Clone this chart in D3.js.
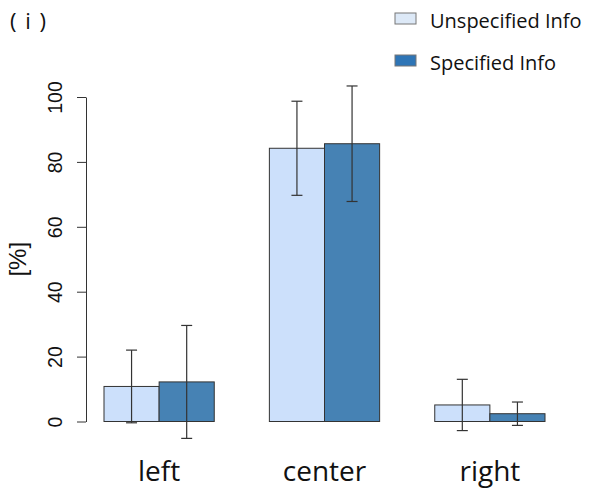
<!DOCTYPE html>
<html>
<head>
<meta charset="utf-8">
<script src="https://cdn.jsdelivr.net/npm/d3@7"></script>
<style>
  html, body { margin: 0; padding: 0; background: #fff; }
  svg { display: block; }
</style>
</head>
<body>
<svg id="chart" width="590" height="488"></svg>
<script>
// Response position by information condition (mean ± SD, in percent)
const categories = ["left", "center", "right"];
const seriesNames = ["Unspecified Info", "Specified Info"];
const unspecified = [10.8, 84.2, 5.1];
const specified = [12.2, 85.6, 2.4];
const unspecifiedErr = [11.2, 14.5, 7.9];
const specifiedErr = [17.4, 17.8, 3.6];
const yTicks = [0, 20, 40, 60, 80, 100];

const barColors = ["#cce0fb", "#4682b4"];
const legendColors = ["#dde9f7", "#2e75b6"];

const rows = categories.map((c, i) => ({
  category: c,
  values: [
    { series: seriesNames[0], value: unspecified[i], err: unspecifiedErr[i] },
    { series: seriesNames[1], value: specified[i], err: specifiedErr[i] }
  ]
}));

const svg = d3.select("#chart");

const x = d3.scaleBand()
  .domain(categories)
  .range([104, 545])
  .paddingInner(1 / 3)
  .paddingOuter(0);

const xInner = d3.scaleBand()
  .domain(seriesNames)
  .range([0, x.bandwidth()])
  .padding(0);

const y = d3.scaleLinear()
  .domain([0, 100])
  .range([421.5, 97]);

// Bars
const groups = svg.append("g")
  .selectAll("g")
  .data(rows)
  .join("g")
  .attr("transform", d => `translate(${x(d.category)},0)`);

groups.selectAll("rect")
  .data(d => d.values)
  .join("rect")
  .attr("x", d => xInner(d.series))
  .attr("y", d => y(d.value))
  .attr("width", xInner.bandwidth())
  .attr("height", d => y(0) - y(d.value))
  .attr("fill", (d, i) => barColors[i])
  .attr("stroke", "#333")
  .attr("stroke-width", 1);

// Error bars
const capHalf = 5.5;
const err = groups.selectAll("g.err")
  .data(d => d.values)
  .join("g")
  .attr("class", "err")
  .attr("stroke", "#333")
  .attr("stroke-width", 1.2)
  .attr("fill", "none");

err.append("line")
  .attr("x1", d => xInner(d.series) + xInner.bandwidth() / 2)
  .attr("x2", d => xInner(d.series) + xInner.bandwidth() / 2)
  .attr("y1", d => y(d.value + d.err))
  .attr("y2", d => y(d.value - d.err));

err.append("line")
  .attr("x1", d => xInner(d.series) + xInner.bandwidth() / 2 - capHalf)
  .attr("x2", d => xInner(d.series) + xInner.bandwidth() / 2 + capHalf)
  .attr("y1", d => y(d.value + d.err))
  .attr("y2", d => y(d.value + d.err));

err.append("line")
  .attr("x1", d => xInner(d.series) + xInner.bandwidth() / 2 - capHalf)
  .attr("x2", d => xInner(d.series) + xInner.bandwidth() / 2 + capHalf)
  .attr("y1", d => y(d.value - d.err))
  .attr("y2", d => y(d.value - d.err));

// Y axis
const yAxis = svg.append("g")
  .attr("transform", "translate(86,0)")
  .call(d3.axisLeft(y).tickValues(yTicks).tickSize(9).tickSizeOuter(0).tickFormat(d3.format("d")));

yAxis.select(".domain").attr("stroke", "#333").attr("stroke-width", 1);
yAxis.selectAll(".tick line").attr("stroke", "#333").attr("stroke-width", 1);
yAxis.selectAll(".tick text")
  .attr("x", null).attr("dy", null)
  .attr("transform", "translate(-24,0) rotate(-90)")
  .attr("text-anchor", "middle")
  .attr("fill", "#111")
  .style("font-family", "'Liberation Sans', Arial, sans-serif")
  .style("font-size", "19.5px");

svg.append("text")
  .attr("transform", `translate(25.5,${(y(0) + y(100)) / 2}) rotate(-90)`)
  .attr("text-anchor", "middle")
  .attr("fill", "#111")
  .style("font-family", "'Liberation Sans', Arial, sans-serif")
  .style("font-size", "24px")
  .text("[%]");

// Category labels
svg.append("g")
  .selectAll("text")
  .data(categories)
  .join("text")
  .attr("x", d => x(d) + x.bandwidth() / 2)
  .attr("y", 481)
  .attr("text-anchor", "middle")
  .attr("fill", "#111")
  .style("font-family", "'Open Sans', sans-serif")
  .style("font-size", "28px")
  .text(d => d);

// Panel tag
svg.append("text")
  .attr("x", 10)
  .attr("y", 29)
  .attr("fill", "#111")
  .style("font-family", "'Open Sans', sans-serif")
  .style("font-size", "22px")
  .style("letter-spacing", "1.5px")
  .style("white-space", "pre")
  .text("( i )");

// Legend
const legend = svg.append("g")
  .selectAll("g")
  .data(seriesNames)
  .join("g")
  .attr("transform", (d, i) => `translate(395,${13 + i * 42})`);

legend.append("rect")
  .attr("width", 21)
  .attr("height", 11)
  .attr("fill", (d, i) => legendColors[i])
  .attr("stroke", "#777")
  .attr("stroke-width", 1);

legend.append("text")
  .attr("x", 35)
  .attr("y", 15)
  .attr("fill", "#111")
  .style("font-family", "'Open Sans', sans-serif")
  .style("font-size", "20px")
  .text(d => d);
</script>
</body>
</html>
